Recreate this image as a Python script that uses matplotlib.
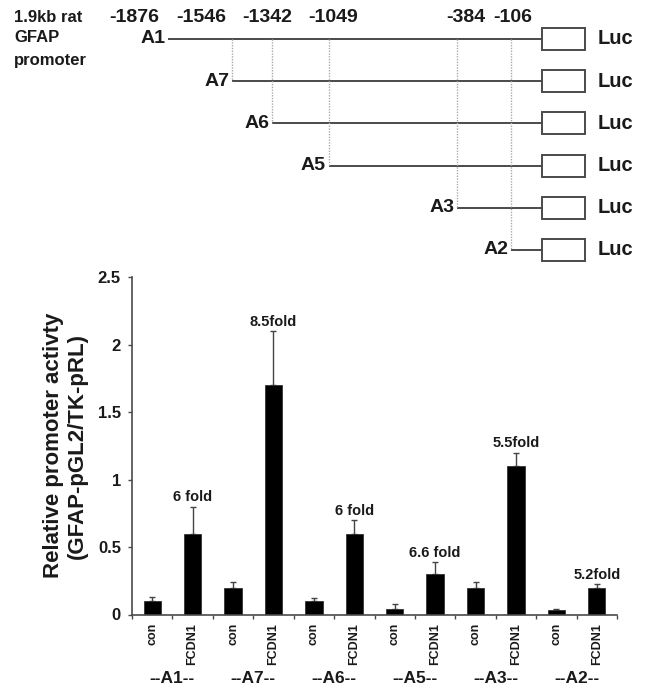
import matplotlib
matplotlib.use('Agg')
import matplotlib.pyplot as plt
import matplotlib.patches as mpatches
import numpy as np

plt.rcParams['font.family'] = ['Liberation Sans', 'DejaVu Sans']
plt.rcParams['font.weight'] = 'bold'
plt.rcParams['axes.labelweight'] = 'bold'

# ------------------------------------
# Datos
# ------------------------------------
# constructos del promotor GFAP (posicion de inicio en pb)
constructs = ['A1', 'A7', 'A6', 'A5', 'A3', 'A2']
start_bp = [-1876, -1546, -1342, -1049, -384, -106]
header_labels = ['-1876', '-1546', '-1342', '-1049', '-384', '-106']

# actividad relativa del promotor
conditions = ['con', 'FCDN1']
con_mean = [0.10, 0.20, 0.10, 0.04, 0.20, 0.03]
con_err = [0.03, 0.04, 0.025, 0.035, 0.04, 0.01]
fcdn_mean = [0.60, 1.70, 0.60, 0.30, 1.10, 0.20]
fcdn_err = [0.20, 0.40, 0.10, 0.09, 0.10, 0.025]
fold_labels = ['6 fold', '8.5fold', '6 fold', '6.6 fold', '5.5fold', '5.2fold']

line_col = '#4a4a4a'
text_col = '#1a1a1a'

fig = plt.figure(figsize=(6.47, 6.9), dpi=100)

# ------------------------------------
# Esquema de los constructos
# ------------------------------------
ax0 = fig.add_axes([0, 0, 1, 1])
ax0.set_xlim(-2746, 596)
ax0.set_ylim(15.43, -0.924)
ax0.axis('off')

box_start = 54
box_width = 222
box_h = 0.52

for i, (name, bp) in enumerate(zip(constructs, start_bp)):
    ax0.plot([bp, box_start], [i, i], color=line_col, lw=1.4, solid_capstyle='butt')
    ax0.add_patch(mpatches.Rectangle((box_start, i - box_h / 2), box_width, box_h,
                                     facecolor='white', edgecolor=line_col, lw=1.4))
    ax0.text(box_start + box_width + 67, i, 'Luc', ha='left', va='center',
             fontsize=14.5, fontweight='bold', color=text_col)
    ax0.text(bp - 14, i, name, ha='right', va='center', fontsize=14,
             fontweight='bold', color=text_col)
    if i > 0:
        ax0.plot([bp, bp], [0, i], color='#aaaaaa', lw=1, linestyle=(0, (1, 1)))

# etiquetas de posicion
header_x = [134.5, 201, 267, 333, 466, 513]
for lab, xp in zip(header_labels, header_x):
    fig.text(xp / 647, 1 - 17 / 690, lab, ha='center', va='center',
             fontsize=14, fontweight='bold', color=text_col)

for txt, yp in zip(['1.9kb rat', 'GFAP', 'promoter'], [17, 38, 60]):
    fig.text(14 / 647, 1 - yp / 690, txt, ha='left', va='center',
             fontsize=12, fontweight='bold', color=text_col)

# ------------------------------------
# Grafica de barras
# ------------------------------------
ax = fig.add_axes([132 / 647, 1 - 614.5 / 690, 485 / 647, 337.5 / 690])
ax.set_facecolor('none')

heights = []
errs = []
for c, ce, f, fe in zip(con_mean, con_err, fcdn_mean, fcdn_err):
    heights += [c, f]
    errs += [ce, fe]
x = np.arange(len(heights))

ax.errorbar(x, heights, yerr=[np.zeros(len(errs)), errs], fmt='none',
            ecolor='#444444', elinewidth=1, capsize=2.5, capthick=1, zorder=1)
ax.bar(x, heights, width=0.43, color='black', edgecolor='#333333', lw=0.6, zorder=2)

ax.set_xlim(-0.5, len(heights) - 0.5)
ax.set_ylim(0, 2.5)

ax.set_xticks(np.arange(-0.5, len(heights), 1))
ax.set_xticklabels([])
ax.set_xticks(x, minor=True)
ax.set_xticklabels(conditions * len(constructs), minor=True, rotation=90,
                   fontsize=9, fontweight='bold', color=text_col)
ax.tick_params(axis='x', which='major', direction='out', length=3, width=1, colors=line_col)
ax.tick_params(axis='x', which='minor', length=0, pad=6, labelcolor=text_col)

ax.set_yticks([0, 0.5, 1, 1.5, 2, 2.5])
ax.set_yticklabels(['0', '0.5', '1', '1.5', '2', '2.5'], fontsize=12,
                   fontweight='bold', color=text_col)
ax.tick_params(axis='y', direction='out', length=3, width=1, pad=5, colors=line_col,
               labelcolor=text_col)

for s in ['top', 'right']:
    ax.spines[s].set_visible(False)
for s in ['left', 'bottom']:
    ax.spines[s].set_color(line_col)
    ax.spines[s].set_linewidth(1.2)

ax.set_ylabel('Relative promoter activty\n(GFAP-pGL2/TK-pRL)', fontsize=16,
              fontweight='bold', color=text_col, linespacing=1.15)
ax.yaxis.set_label_coords(-0.091, 0.5)

# etiquetas de grupo
for i, name in enumerate(constructs):
    ax.annotate('--' + name + '--', xy=(2 * i + 0.5, 0), xycoords=('data', 'axes fraction'),
                xytext=(0, -46.4), textcoords='offset points', ha='center', va='center',
                fontsize=12.5, fontweight='bold', color=text_col)

# etiquetas de veces de induccion
for i, lab in enumerate(fold_labels):
    ax.annotate(lab, xy=(2 * i + 1, fcdn_mean[i] + fcdn_err[i]),
                xytext=(0, 1.5), textcoords='offset points', ha='center', va='bottom',
                fontsize=10.5, fontweight='bold', color=text_col)

plt.savefig('out.png', dpi=100)
